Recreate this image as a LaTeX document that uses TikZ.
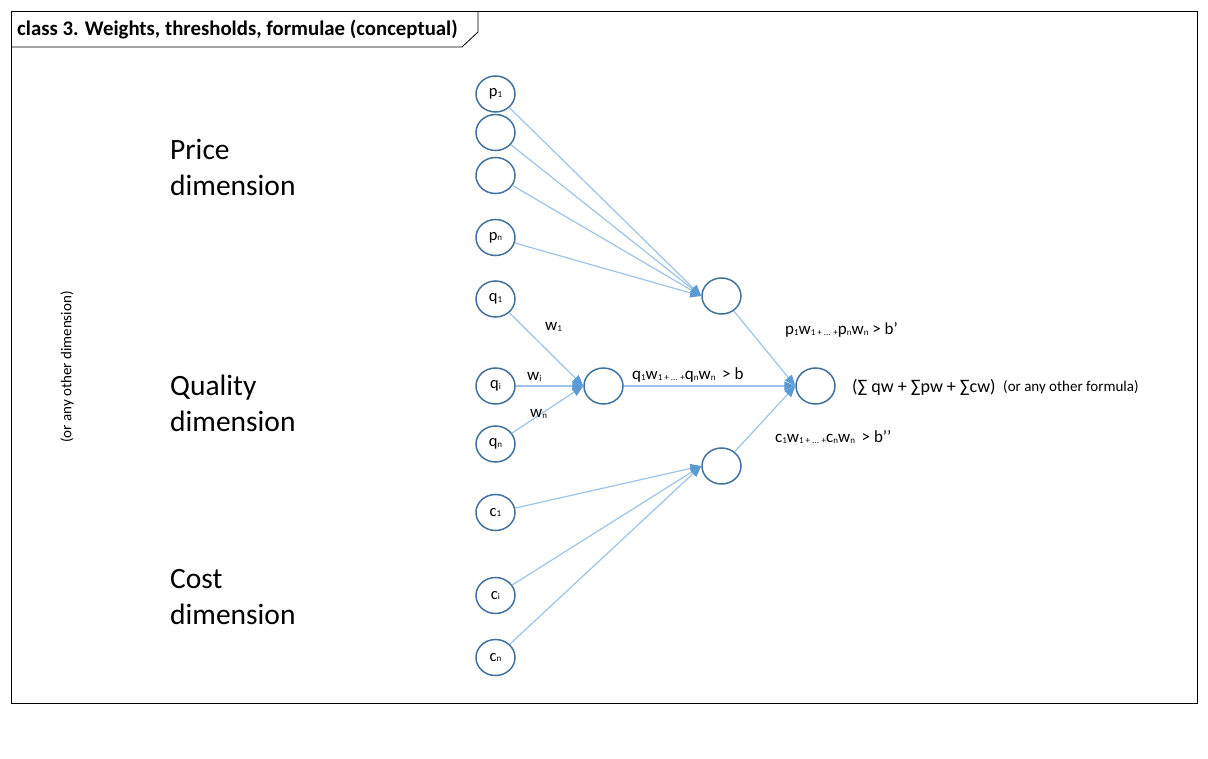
\documentclass[tikz,border=0pt]{standalone}
\usepackage{fontspec}
\setmainfont{Carlito}
\usetikzlibrary{arrows.meta,shapes.geometric}
\definecolor{ellb}{HTML}{41719C}
\definecolor{edgec}{HTML}{9DC3E6}
\definecolor{arrc}{HTML}{5B9BD5}
\newcommand{\subx}[1]{\raisebox{-0.5pt}{\fontsize{9}{9}\selectfont #1}}
\tikzset{
  neuron/.style={ellipse, draw=ellb, line width=1.5pt, minimum width=39pt, minimum height=36pt, inner sep=0pt, font=\fontsize{16.5}{16}\selectfont},
  conn/.style={draw=edgec, line width=1.2pt, -{Triangle[length=11pt,width=9pt,color=arrc]}},
  lbl/.style={font=\fontsize{15}{17}\selectfont, inner sep=0pt},
  flbl/.style={font=\fontsize{17}{19}\selectfont, inner sep=0pt, anchor=west},
  dimlbl/.style={font=\fontsize{29.5}{36}\selectfont, align=left, anchor=north west, inner sep=0pt},
}
\begin{document}
\begin{tikzpicture}[x=1pt,y=-1pt]
\useasboundingbox (0,0) rectangle (1208,759);
% frame
\draw[line width=0.8pt] (11,11) rectangle (1197,703);
\draw[line width=0.8pt] (11,47) -- (462,47) -- (478,32) -- (478,11);
\node[anchor=base west, inner sep=0pt, font=\bfseries\fontsize{20.8}{21}\selectfont] (title) at (17,36) {class 3. Weights, thresholds, formulae (conceptual)};
% dimension labels
\node[dimlbl] (price) at (170,139) {Price\\dimension};
\node[dimlbl] (quality) at (170,375) {Quality\\dimension};
\node[dimlbl] (cost) at (170,569) {Cost\\dimension};
\node[rotate=90, lbl] (other) at (67,367) {(or any other dimension)};
% input neurons
\node[neuron] (p1) at (495.5,94) {p\subx{1}};
\node[neuron] (pb1) at (495.5,132.5) {};
\node[neuron] (pb2) at (495.5,175.5) {};
\node[neuron] (pn) at (495.5,237.5) {p\subx{n}};
\node[neuron] (q1) at (495.5,299) {q\subx{1}};
\node[neuron] (qi) at (495.5,386) {q\subx{i}};
\node[neuron] (qn) at (495.5,444) {q\subx{n}};
\node[neuron] (c1) at (495.5,512.5) {c\subx{1}};
\node[neuron] (ci) at (495.5,595.5) {c\subx{i}};
\node[neuron] (cn) at (495.5,657.5) {c\subx{n}};
% aggregators
\node[neuron] (pa) at (721.5,296) {};
\node[neuron] (qa) at (603.5,386) {};
\node[neuron] (ca) at (721.5,466) {};
\node[neuron] (fin) at (815.5,386) {};
% connectors
\foreach \s in {p1,pb1,pb2,pn} \draw[conn] (\s) -- (pa.west);
\foreach \s in {q1,qi,qn} \draw[conn] (\s) -- (qa.west);
\foreach \s in {c1,ci,cn} \draw[conn] (\s) -- (ca.west);
\draw[conn] (qa) -- (fin.west);
\draw[conn] (pa) -- (fin.west);
\draw[conn] (ca) -- (fin.west);
% weight labels
\node[flbl] (w1) at (545,327) {w\subx{1}};
\node[flbl] (wi) at (527,377) {w\subx{i}};
\node[flbl] (wn) at (530,414) {w\subx{n}};
% formulas
\node[flbl] (fq) at (632,375) {q\subx{1}w\subx{1 + ... +}q\subx{n}w\subx{n} \,> b};
\node[flbl] (fp) at (785,330) {p\subx{1}w\subx{1 + ... +}p\subx{n}w\subx{n} > b’};
\node[flbl] (fc) at (775,437) {c\subx{1}w\subx{1 + ... +}c\subx{n}w\subx{n} \,> b’’};
\node[anchor=west, inner sep=0pt, font=\fontsize{18}{20}\selectfont] (sum) at (852,387) {(∑ qw + ∑pw + ∑cw)};
\node[lbl, anchor=west] (anyf) at (1003,387) {(or any other formula)};
\end{tikzpicture}
\end{document}
